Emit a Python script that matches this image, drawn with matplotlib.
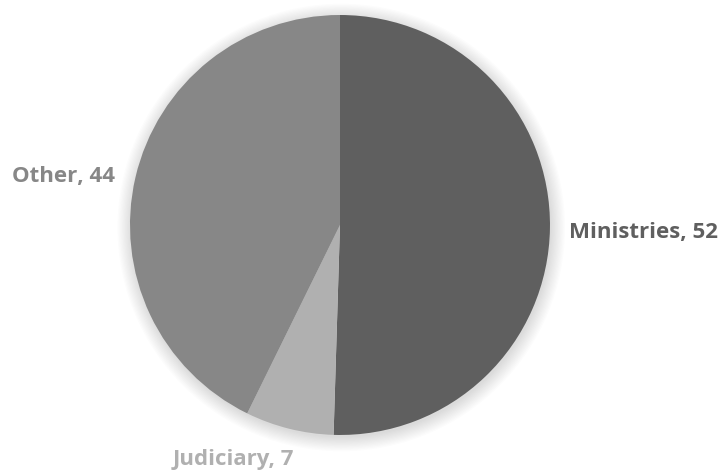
import matplotlib
matplotlib.use("Agg")
import matplotlib.pyplot as plt
from matplotlib.patches import Circle

# Share of items by source
labels = ["Ministries", "Judiciary", "Other"]
values = [52, 7, 44]
colors = ["#5f5f5f", "#b0b0b0", "#878787"]

fig = plt.figure(figsize=(7.21, 4.70), dpi=100)
ax = fig.add_axes([0.1803, 0.0745, 0.5825, 0.8936])

# soft drop shadow under the pie
for k in range(12):
    ax.add_patch(Circle((0.006, -0.012), 1 + k * 0.006, color="black",
                        alpha=0.012, lw=0, zorder=0, clip_on=False))

ax.pie(values, colors=colors, startangle=90, counterclock=False,
       radius=1, wedgeprops=dict(linewidth=0))
ax.set_xlim(-1, 1)
ax.set_ylim(-1, 1)
ax.set_aspect("equal")
ax.axis("off")

font = dict(fontsize=16, fontweight="bold", family="Open Sans")
ax.text(1.090, -0.062, f"{labels[0]}, {values[0]}", color=colors[0],
        ha="left", va="baseline", clip_on=False, **font)
ax.text(-0.51, -1.143, f"{labels[1]}, {values[1]}", color=colors[1],
        ha="center", va="baseline", clip_on=False, **font)
ax.text(-1.071, 0.205, f"{labels[2]}, {values[2]}", color=colors[2],
        ha="right", va="baseline", clip_on=False, **font)

fig.savefig("out.png", dpi=100)
